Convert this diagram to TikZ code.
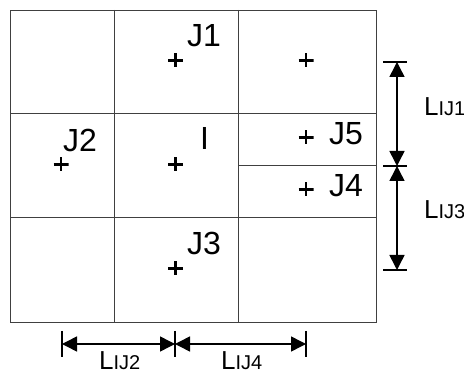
\documentclass[tikz,border=0pt]{standalone}
\usepackage{fontspec}
\setmainfont{Liberation Sans}
\usetikzlibrary{arrows.meta}
\begin{document}
\begin{tikzpicture}[x=1pt,y=-1pt,
  gridline/.style={draw=black!75, line width=1pt},
  crossmark/.style={inner sep=0pt, minimum width=15pt, minimum height=14pt,
    path picture={\draw[line width=2.2pt]
      (path picture bounding box.west) -- (path picture bounding box.east)
      (path picture bounding box.north) -- (path picture bounding box.south);}},
  lab/.style={anchor=base west, inner sep=0pt, font=\fontsize{32}{34}\selectfont},
  dimlab/.style={anchor=base west, inner sep=0pt, font=\fontsize{26}{28}\selectfont},
  dimline/.style={line width=1.5pt, {Triangle[length=15pt,width=15pt]}-{Triangle[length=15pt,width=15pt]}},
  tick/.style={line width=1.5pt}
]
\useasboundingbox (0,0) rectangle (464,374);
% grid
\node[gridline, minimum width=366pt, minimum height=312pt, inner sep=0pt, anchor=north west] (box) at (10,10) {};
\coordinate (v1t) at (114,10); \coordinate (v1b) at (114,322);
\coordinate (v2t) at (238,10); \coordinate (v2b) at (238,322);
\coordinate (h1l) at (10,114); \coordinate (h1r) at (376,114);
\coordinate (h2l) at (10,218); \coordinate (h2r) at (376,218);
\coordinate (h3l) at (238,166); \coordinate (h3r) at (376,166);
\draw[gridline] (v1t) -- (v1b);
\draw[gridline] (v2t) -- (v2b);
\draw[gridline] (h1l) -- (h1r);
\draw[gridline] (h2l) -- (h2r);
\draw[gridline] (h3l) -- (h3r);
% crosses
\node[crossmark] (pj1) at (175.5,60.5) {};
\node[crossmark] (pr) at (306,60.5) {};
\node[crossmark] (pj2) at (61,164.5) {};
\node[crossmark] (pi) at (175.5,164.5) {};
\node[crossmark] (pj5) at (306,137.5) {};
\node[crossmark] (pj4) at (306,189.5) {};
\node[crossmark] (pj3) at (175.5,268.5) {};
% labels
\node[lab] (tj1) at (187,47) {J1};
\node[lab] (tj2) at (63,152) {J2};
\node[lab] (ti) at (200,150) {I};
\node[lab] (tj5) at (329,145) {J5};
\node[lab] (tj4) at (329,197) {J4};
\node[lab] (tj3) at (187,255) {J3};
% vertical dimensions
\coordinate (va0) at (383,62); \coordinate (vb0) at (407,62);
\coordinate (va1) at (383,166); \coordinate (vb1) at (407,166);
\coordinate (va2) at (383,270); \coordinate (vb2) at (407,270);
\coordinate (d0) at (397,62); \coordinate (d1) at (397,166); \coordinate (d2) at (397,270);
\draw[tick] (va0) -- (vb0);
\draw[tick] (va1) -- (vb1);
\draw[tick] (va2) -- (vb2);
\draw[dimline] (d0) -- (d1);
\draw[dimline] (d1) -- (d2);
\node[dimlab] (l1) at (424,116) {L{\fontsize{20}{22}\selectfont IJ1}};
\node[dimlab] (l3) at (424,219) {L{\fontsize{20}{22}\selectfont IJ3}};
% horizontal dimensions
\coordinate (ha0) at (62,331); \coordinate (hb0) at (62,357);
\coordinate (ha1) at (175,331); \coordinate (hb1) at (175,357);
\coordinate (ha2) at (306,331); \coordinate (hb2) at (306,357);
\coordinate (e0) at (62,344); \coordinate (e1) at (175,344); \coordinate (e2) at (306,344);
\draw[tick] (ha0) -- (hb0);
\draw[tick] (ha1) -- (hb1);
\draw[tick] (ha2) -- (hb2);
\draw[dimline] (e0) -- (e1);
\draw[dimline] (e1) -- (e2);
\node[dimlab] (l2) at (99,370) {L{\fontsize{20}{22}\selectfont IJ2}};
\node[dimlab] (l4) at (221,370) {L{\fontsize{20}{22}\selectfont IJ4}};
\end{tikzpicture}
\end{document}
